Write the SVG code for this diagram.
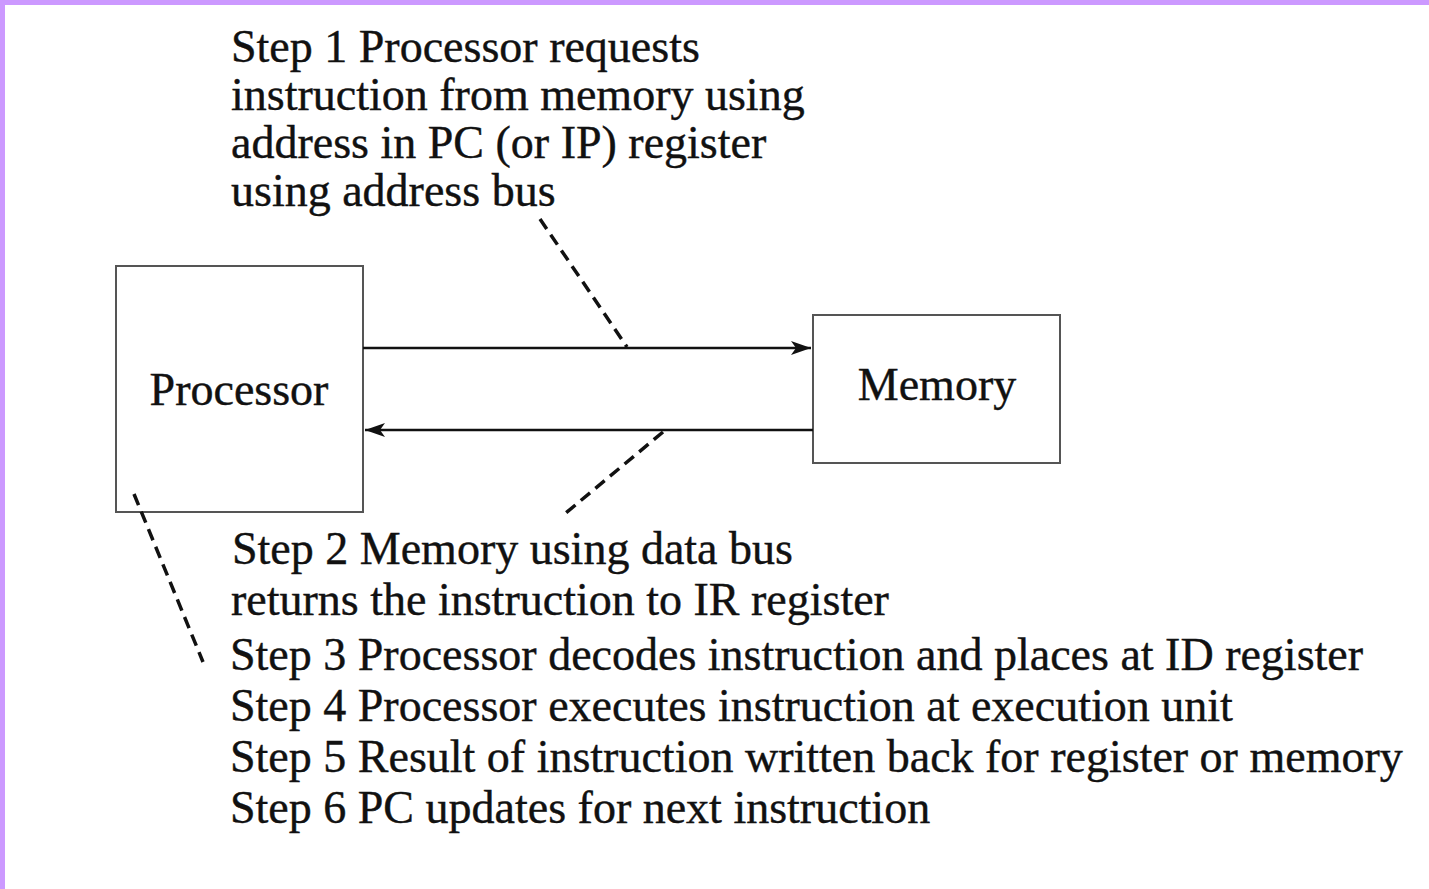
<svg xmlns="http://www.w3.org/2000/svg" width="1429" height="889" viewBox="0 0 1429 889">
<style>
.t{font-family:"Liberation Serif","Times New Roman",serif;font-size:46px;fill:#111;stroke:#111;stroke-width:0.4}
.box{fill:#fff;stroke:#555;stroke-width:2}
.bus{stroke:#111;stroke-width:2.5;fill:none}
.dash{stroke:#111;stroke-width:3.5;stroke-dasharray:12 7;fill:none}
</style>
<defs>
<marker id="ah" viewBox="0 0 20 14" refX="20" refY="7" markerWidth="20" markerHeight="14" markerUnits="userSpaceOnUse" orient="auto">
<path d="M0,0 L20,7 L0,14 L5,7 Z" fill="#111"/>
</marker>
</defs>
<rect x="0" y="0" width="1429" height="889" fill="#fff"/>
<rect x="0" y="0" width="1429" height="5" fill="#cc99ff"/>
<rect x="0" y="0" width="5" height="889" fill="#cc99ff"/>
<g id="processor">
<rect class="box" x="116" y="266" width="247" height="246"/>
<text class="t" x="239" y="405" text-anchor="middle">Processor</text>
</g>
<g id="memory">
<rect class="box" x="813" y="315" width="247" height="148"/>
<text class="t" x="937" y="400" text-anchor="middle">Memory</text>
</g>
<g id="connectors">
<line class="bus" x1="363" y1="348" x2="811" y2="348" marker-end="url(#ah)"/>
<line class="bus" x1="813" y1="430" x2="365" y2="430" marker-end="url(#ah)"/>
<line class="dash" x1="540" y1="219" x2="627" y2="347"/>
<line class="dash" x1="663" y1="432" x2="561" y2="517"/>
<line class="dash" x1="134" y1="494" x2="203" y2="662"/>
</g>
<g id="step1">
<text class="t" x="231" y="62">Step 1 Processor requests</text>
<text class="t" x="231" y="110">instruction from memory using</text>
<text class="t" x="231" y="158">address in PC (or IP) register</text>
<text class="t" x="231" y="206">using address bus</text>
</g>
<g id="step2">
<text class="t" x="232" y="564">Step 2 Memory using data bus</text>
<text class="t" x="231" y="615">returns the instruction to IR register</text>
</g>
<g id="steps3to6">
<text class="t" x="230" y="670">Step 3 Processor decodes instruction and places at ID register</text>
<text class="t" x="230" y="721">Step 4 Processor executes instruction at execution unit</text>
<text class="t" x="230" y="772">Step 5 Result of instruction written back for register or memory</text>
<text class="t" x="230" y="823">Step 6 PC updates for next instruction</text>
</g>
</svg>
